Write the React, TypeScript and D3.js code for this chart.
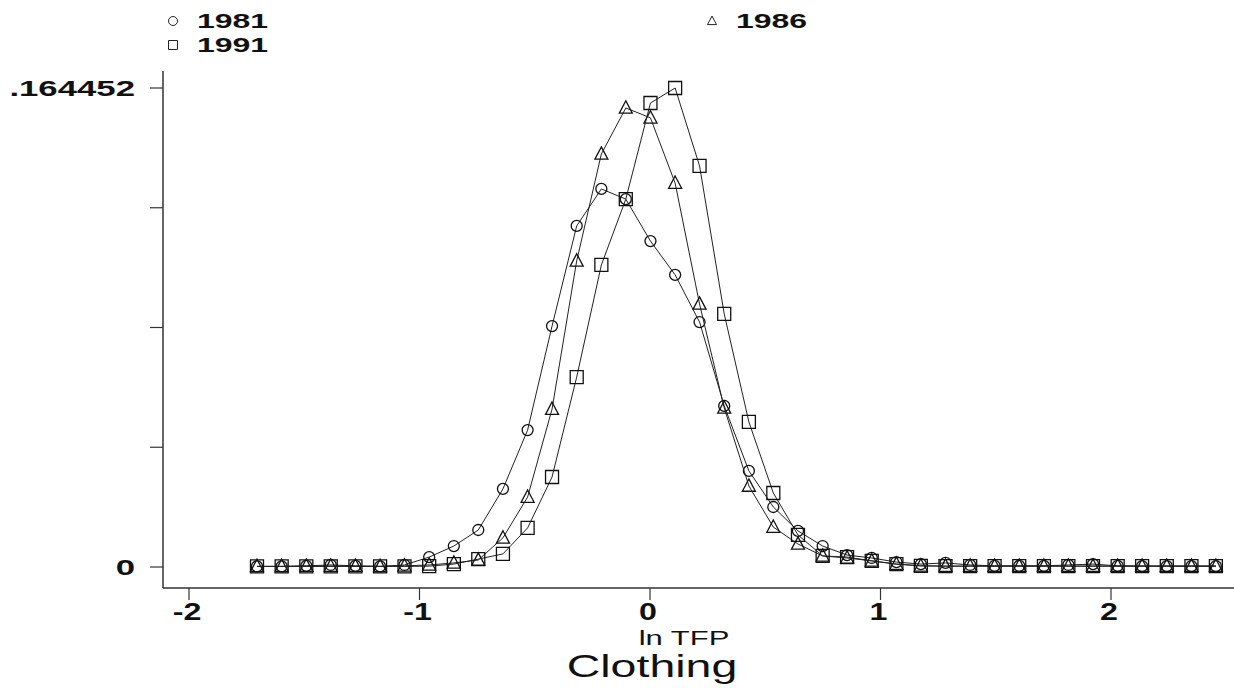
import React from 'react';
import * as d3 from 'd3';

// kernel density estimates of ln TFP, clothing
const gridX = [
  -1.705, -1.598, -1.491, -1.385, -1.278, -1.171, -1.065, -0.958, -0.851, -0.745,
  -0.638, -0.531, -0.425, -0.318, -0.211, -0.105, 0.002, 0.109, 0.215, 0.322,
  0.429, 0.535, 0.642, 0.749, 0.855, 0.962, 1.069, 1.175, 1.282, 1.389,
  1.495, 1.602, 1.709, 1.815, 1.922, 2.029, 2.135, 2.242, 2.349, 2.455,
];

const dens1981 = [
  0.0002, 0.0002, 0.0004, 0.0007, 0.0004, 0.0002, 0.0007, 0.0034, 0.0072, 0.0127,
  0.0268, 0.047, 0.0827, 0.1171, 0.1298, 0.1263, 0.1119, 0.1003, 0.0841, 0.0553,
  0.033, 0.0206, 0.0124, 0.0072, 0.0041, 0.0031, 0.0017, 0.001, 0.0014, 0.0007,
  0.0004, 0.0004, 0.0004, 0.0007, 0.001, 0.0004, 0.0003, 0.0003, 0.0003, 0.0003,
];

const dens1986 = [
  0.0002, 0.0002, 0.0003, 0.0003, 0.0003, 0.0002, 0.0004, 0.0007, 0.0014, 0.0024,
  0.01, 0.024, 0.0542, 0.1051, 0.1418, 0.1576, 0.1542, 0.1318, 0.0903, 0.0546,
  0.0278, 0.0137, 0.0079, 0.0038, 0.0031, 0.0021, 0.001, 0.0004, 0.0003, 0.0003,
  0.0003, 0.0003, 0.0003, 0.0003, 0.0003, 0.0003, 0.0003, 0.0003, 0.0003, 0.0003,
];

const dens1991 = [
  0.0002, 0.0002, 0.0002, 0.0002, 0.0002, 0.0002, 0.0002, 0.0003, 0.001, 0.0027,
  0.0045, 0.0134, 0.0309, 0.0652, 0.1037, 0.1263, 0.1593, 0.164452, 0.1377, 0.0869,
  0.0498, 0.0254, 0.011, 0.0038, 0.0034, 0.0021, 0.001, 0.0004, 0.0003, 0.0003,
  0.0003, 0.0003, 0.0003, 0.0003, 0.0003, 0.0003, 0.0003, 0.0003, 0.0003, 0.0003,
];

const xTicks = [-2, -1, 0, 1, 2];
const yMax = 0.164452;
const yTicks = [0, yMax / 4, yMax / 2, (yMax * 3) / 4, yMax];
const yLabels = ['0', '', '', '', '.164452'];

const series = [
  { year: '1981', shape: 'circle', values: dens1981 },
  { year: '1986', shape: 'triangle', values: dens1986 },
  { year: '1991', shape: 'square', values: dens1991 },
];

const FONT = '"Liberation Sans", Arial, sans-serif';

// hollow marker path centred on (0,0)
const markerPath = (shape: string, s: number) => {
  if (shape === 'square') return `M${-s},${-s}H${s}V${s}H${-s}Z`;
  if (shape === 'triangle') return `M0,${-s * 1.1}L${s},${s * 0.8}L${-s},${s * 0.8}Z`;
  return `M${s},0A${s},${s} 0 1,1 ${-s},0A${s},${s} 0 1,1 ${s},0Z`;
};

const sizeOf = (shape: string) => (shape === 'circle' ? 5.5 : 6.5);

const App = () => {
  const width = 1234;
  const height = 688;

  const x = d3.scaleLinear().domain([-2, 2]).range([189, 1111]);
  const y = d3.scaleLinear().domain([0, yMax]).range([567, 88]);

  const line = d3
    .line<number>()
    .x((d, i) => x(gridX[i]))
    .y((d) => y(d));

  const axisX = 163;
  const axisY = 588;

  // legend entries
  const legend = [
    { shape: 'circle', label: '1981', mx: 173, my: 21 },
    { shape: 'square', label: '1991', mx: 173, my: 45 },
    { shape: 'triangle', label: '1986', mx: 712, my: 21 },
  ];

  return (
    <svg
      width={width}
      height={height}
      style={{ position: 'absolute', left: 0, top: 0, background: '#fff' }}
    >
      {/* legend */}
      {legend.map((l) => (
        <g key={l.label}>
          <path
            d={markerPath(l.shape, l.shape === 'circle' ? 4.5 : 4.5)}
            transform={`translate(${l.mx},${l.my})`}
            fill="none"
            stroke="#222"
            strokeWidth={1}
          />
          <text
            transform={`translate(${l.mx + 24},${l.my + 7}) scale(1.6,1)`}
            fontFamily={FONT}
            fontWeight="bold"
            fontSize={20}
            fill="#111"
          >
            {l.label}
          </text>
        </g>
      ))}

      {/* axes */}
      <line x1={axisX} x2={axisX} y1={71} y2={axisY} stroke="#333" strokeWidth={1.5} />
      <line x1={axisX} x2={width} y1={axisY} y2={axisY} stroke="#333" strokeWidth={1.5} />

      {yTicks.map((t, i) => (
        <g key={'y' + i}>
          <line x1={150} x2={axisX} y1={y(t)} y2={y(t)} stroke="#333" strokeWidth={1.2} />
          {yLabels[i] && (
            <text
              transform={`translate(135,${y(t) + 8}) scale(1.58,1)`}
              textAnchor="end"
              fontFamily={FONT}
              fontWeight="bold"
              fontSize={22}
              fill="#111"
            >
              {yLabels[i]}
            </text>
          )}
        </g>
      ))}

      {xTicks.map((t) => (
        <g key={'x' + t}>
          <line x1={x(t)} x2={x(t)} y1={axisY} y2={axisY + 12} stroke="#333" strokeWidth={1.2} />
          <text
            transform={`translate(${x(t) - 2},620) scale(1.4,1)`}
            textAnchor="middle"
            fontFamily={FONT}
            fontWeight="bold"
            fontSize={23}
            fill="#111"
          >
            {t}
          </text>
        </g>
      ))}

      <text
        transform="translate(684,645) scale(1.55,1)"
        textAnchor="middle"
        fontFamily={FONT}
        fontSize={20}
        fill="#111"
      >
        ln TFP
      </text>
      <text
        transform="translate(652,677) scale(1.5,1)"
        textAnchor="middle"
        fontFamily={FONT}
        fontSize={31}
        fill="#111"
      >
        Clothing
      </text>

      {/* density lines and markers */}
      {series.map((s) => (
        <g key={s.year}>
          <path d={line(s.values) || ''} fill="none" stroke="#222" strokeWidth={1} />
          {s.values.map((v, i) => (
            <path
              key={i}
              d={markerPath(s.shape, sizeOf(s.shape))}
              transform={`translate(${x(gridX[i])},${y(v)})`}
              fill="none"
              stroke="#111"
              strokeWidth={1.3}
            />
          ))}
        </g>
      ))}
    </svg>
  );
};

export default App;
